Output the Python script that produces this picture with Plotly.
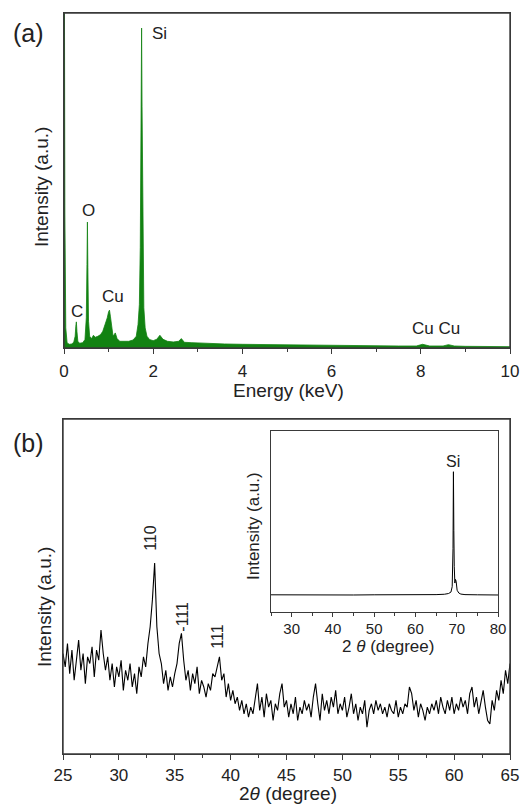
import numpy as np
import plotly.graph_objects as go

# ---------------- (a) EDS spectrum ----------------
energy_kev = [0.0, 0.01, 0.02, 0.04, 0.07, 0.12, 0.18, 0.22, 0.25, 0.265,
              0.277, 0.29, 0.31, 0.35, 0.42, 0.47, 0.50, 0.515, 0.525, 0.535,
              0.55, 0.575, 0.62, 0.66, 0.70, 0.76, 0.82, 0.87, 0.91, 0.94,
              0.97, 1.0, 1.02, 1.04, 1.07, 1.10, 1.15, 1.19, 1.25, 1.35,
              1.45, 1.55, 1.62, 1.66, 1.69, 1.71, 1.73, 1.74, 1.75, 1.77,
              1.79, 1.82, 1.86, 1.92, 2.0, 2.08, 2.15, 2.22, 2.32, 2.45,
              2.57, 2.63, 2.7, 2.85, 3.0, 3.3, 3.6, 4.0, 4.5, 5.0,
              5.5, 6.0, 6.5, 7.0, 7.5, 7.9, 8.04, 8.2, 8.5, 8.62,
              8.75, 9.0, 9.5, 10.0]
eds_counts = [0.0, 1.05, 0.40, 0.06, 0.015, 0.011, 0.012, 0.018, 0.035, 0.065,
              0.078, 0.05, 0.02, 0.014, 0.016, 0.025, 0.09, 0.25, 0.376, 0.24,
              0.08, 0.035, 0.028, 0.038, 0.032, 0.035, 0.04, 0.05, 0.065, 0.075,
              0.09, 0.108, 0.113, 0.095, 0.055, 0.035, 0.045, 0.028, 0.02, 0.019,
              0.02, 0.024, 0.035, 0.07, 0.13, 0.30, 0.75, 0.955, 0.72, 0.30,
              0.12, 0.06, 0.035, 0.025, 0.022, 0.026, 0.038, 0.026, 0.02, 0.018,
              0.02, 0.028, 0.017, 0.016, 0.015, 0.013, 0.012, 0.011, 0.010, 0.009,
              0.008, 0.008, 0.007, 0.007, 0.006, 0.006, 0.011, 0.006, 0.006, 0.010,
              0.006, 0.005, 0.005, 0.004]
eds_labels = ["Si", "O", "C", "Cu", "Cu Cu"]
eds_label_x = [2.15, 0.54, 0.29, 1.10, 8.34]
eds_label_y = [0.94, 0.41, 0.11, 0.155, 0.057]

# ---------------- (b) XRD pattern (25-65 deg, 0.2 deg step) ----------------
two_theta = np.round(np.arange(25.0, 65.0001, 0.2), 2)
xrd_intensity = [
    0.30, 0.26, 0.33, 0.24, 0.31, 0.22, 0.28, 0.34, 0.25, 0.30,
    0.21, 0.29, 0.27, 0.32, 0.23, 0.31, 0.28, 0.37, 0.30, 0.25,
    0.29, 0.22, 0.27, 0.20, 0.26, 0.23, 0.28, 0.19, 0.25, 0.22,
    0.27, 0.20, 0.24, 0.18, 0.26, 0.23, 0.29, 0.26, 0.33, 0.38,
    0.46, 0.57, 0.38, 0.30, 0.27, 0.21, 0.25, 0.19, 0.23, 0.20,
    0.24, 0.27, 0.33, 0.36, 0.28, 0.22, 0.25, 0.19, 0.24, 0.21,
    0.26, 0.18, 0.22, 0.20, 0.17, 0.21, 0.19, 0.24, 0.23, 0.26,
    0.29, 0.22, 0.24, 0.17, 0.21, 0.16, 0.19, 0.15, 0.17, 0.13,
    0.16, 0.12, 0.15, 0.11, 0.14, 0.12, 0.16, 0.21, 0.13, 0.17,
    0.11, 0.18, 0.14, 0.16, 0.10, 0.15, 0.13, 0.18, 0.21, 0.14,
    0.16, 0.11, 0.15, 0.12, 0.17, 0.10, 0.14, 0.12, 0.16, 0.13,
    0.15, 0.11, 0.17, 0.21, 0.15, 0.10, 0.18, 0.13, 0.16, 0.12,
    0.17, 0.14, 0.19, 0.12, 0.15, 0.13, 0.17, 0.11, 0.14, 0.18,
    0.12, 0.15, 0.10, 0.14, 0.12, 0.16, 0.08, 0.13, 0.15, 0.12,
    0.16, 0.13, 0.15, 0.12, 0.14, 0.11, 0.15, 0.13, 0.12, 0.16,
    0.11, 0.14, 0.12, 0.15, 0.14, 0.20, 0.18, 0.13, 0.16, 0.11,
    0.15, 0.13, 0.10, 0.14, 0.12, 0.15, 0.13, 0.16, 0.12, 0.17,
    0.14, 0.12, 0.16, 0.13, 0.17, 0.12, 0.15, 0.13, 0.17, 0.14,
    0.16, 0.12, 0.18, 0.20, 0.14, 0.17, 0.12, 0.16, 0.19, 0.14,
    0.10, 0.09, 0.16, 0.13, 0.19, 0.16, 0.22, 0.18, 0.25, 0.21,
    0.27]
xrd_labels = ["110", "-111", "111"]
xrd_label_x = [32.87, 35.74, 38.87]
xrd_label_y = [0.645, 0.41, 0.35]

# ---------------- inset: substrate XRD (25-80 deg) ----------------
inset_theta = [25, 30, 35, 40, 45, 50, 55, 60, 65, 67, 68, 68.6, 68.9, 69.1,
               69.2, 69.3, 69.4, 69.55, 69.7, 69.85, 70.1, 70.5, 71, 72, 75, 80]
inset_intensity = [0.095, 0.094, 0.095, 0.094, 0.094, 0.095, 0.094, 0.095,
                   0.096, 0.098, 0.102, 0.11, 0.14, 0.35, 0.775, 0.45, 0.25,
                   0.16, 0.18, 0.17, 0.12, 0.105, 0.099, 0.096, 0.095, 0.094]

W, H = 520, 808
FONT = "Arial, Liberation Sans, sans-serif"
INK = "#222222"
FRAME = "#3a3a3a"
GREEN = "rgb(18,130,18)"

fig = go.Figure()
fig.add_trace(go.Scatter(x=energy_kev, y=eds_counts, mode="lines",
                         line=dict(color=GREEN, width=0.8), fill="tozeroy",
                         fillcolor=GREEN, xaxis="x", yaxis="y",
                         showlegend=False, hoverinfo="skip"))
fig.add_trace(go.Scatter(x=two_theta, y=xrd_intensity, mode="lines",
                         line=dict(color="black", width=1.1), xaxis="x2", yaxis="y2",
                         showlegend=False, hoverinfo="skip"))
fig.add_trace(go.Scatter(x=inset_theta, y=inset_intensity, mode="lines",
                         line=dict(color="black", width=1), xaxis="x3", yaxis="y3",
                         showlegend=False, hoverinfo="skip"))


def px(x):
    return x / W


def py(y):
    return 1 - y / H


axis_common = dict(showline=True, linecolor=FRAME, linewidth=1.4, mirror=True,
                   showgrid=False, zeroline=False, automargin=False)

fig.update_layout(
    width=W, height=H, margin=dict(l=0, r=0, t=0, b=0, autoexpand=False),
    paper_bgcolor="white", plot_bgcolor="white",
    font=dict(family=FONT, color=INK),
    xaxis=dict(domain=[px(64), px(510)], range=[0, 10], anchor="y",
               ticks="outside", ticklen=5, tickcolor=FRAME, dtick=2, tick0=0,
               tickfont=dict(size=17), ticklabelstandoff=2,
               minor=dict(ticks="outside", ticklen=3, tickcolor=FRAME, dtick=1, tick0=0),
               **axis_common),
    yaxis=dict(domain=[py(348), py(13)], range=[0, 1], anchor="x",
               showticklabels=False, ticks="", **axis_common),
    xaxis2=dict(domain=[px(63), px(510)], range=[25, 65], anchor="y2",
                ticks="outside", ticklen=5, tickcolor=FRAME, dtick=5, tick0=25,
                tickfont=dict(size=17), ticklabelstandoff=0,
                minor=dict(ticks="outside", ticklen=3, tickcolor=FRAME, dtick=2.5, tick0=25),
                **axis_common),
    yaxis2=dict(domain=[py(754), py(419)], range=[0, 1], anchor="x2",
                showticklabels=False, ticks="", **axis_common),
    xaxis3=dict(domain=[px(271), px(498)], range=[25, 80], anchor="y3",
                ticks="outside", ticklen=4, tickcolor=FRAME, dtick=10, tick0=0,
                tickfont=dict(size=15), ticklabelstandoff=-1,
                minor=dict(ticks="outside", ticklen=2.5, tickcolor=FRAME, dtick=5, tick0=0),
                **axis_common),
    yaxis3=dict(domain=[py(612), py(431)], range=[0, 1], anchor="x3",
                showticklabels=False, ticks="", **axis_common),
)

# explicit frames around the two main panels
shapes = []
for xr, yr in [("x domain", "y domain"), ("x2 domain", "y2 domain")]:
    shapes.append(dict(type="rect", xref=xr, yref=yr, x0=0, x1=1, y0=0, y1=1,
                       line=dict(color=FRAME, width=1.4), fillcolor="rgba(0,0,0,0)",
                       layer="above"))
fig.update_layout(shapes=shapes)

ann = []
# panel letters
ann.append(dict(text="(a)", x=px(28), y=py(33), xref="paper", yref="paper",
                showarrow=False, font=dict(size=25), xanchor="center", yanchor="middle"))
ann.append(dict(text="(b)", x=px(28), y=py(443), xref="paper", yref="paper",
                showarrow=False, font=dict(size=25), xanchor="center", yanchor="middle"))
# axis titles
ann.append(dict(text="Energy (keV)", x=px(288), y=py(390), xref="paper", yref="paper",
                showarrow=False, font=dict(size=19), xanchor="center", yanchor="middle"))
ann.append(dict(text="Intensity (a.u.)", x=px(41), y=py(187), xref="paper", yref="paper",
                showarrow=False, font=dict(size=19), textangle=-90,
                xanchor="center", yanchor="middle"))
ann.append(dict(text="2<i>θ</i> (degree)", x=px(288), y=py(793), xref="paper", yref="paper",
                showarrow=False, font=dict(size=19), xanchor="center", yanchor="middle"))
ann.append(dict(text="Intensity (a.u.)", x=px(44), y=py(607), xref="paper", yref="paper",
                showarrow=False, font=dict(size=19), textangle=-90,
                xanchor="center", yanchor="middle"))
ann.append(dict(text="2 <i>θ</i> (degree)", x=px(388), y=py(646), xref="paper", yref="paper",
                showarrow=False, font=dict(size=17), xanchor="center", yanchor="middle"))
ann.append(dict(text="Intensity (a.u.)", x=px(253), y=py(526), xref="paper", yref="paper",
                showarrow=False, font=dict(size=17), textangle=-90,
                xanchor="center", yanchor="middle"))
# peak labels
for t, x, y in zip(eds_labels, eds_label_x, eds_label_y):
    ann.append(dict(text=t, x=x, y=y, xref="x", yref="y", showarrow=False,
                    font=dict(size=17), xanchor="center", yanchor="middle"))
for t, x, y in zip(xrd_labels, xrd_label_x, xrd_label_y):
    ann.append(dict(text=t, x=x, y=y, xref="x2", yref="y2", showarrow=False,
                    font=dict(size=16), textangle=-90, xanchor="center", yanchor="middle"))
ann.append(dict(text="Si", x=69.2, y=0.83, xref="x3", yref="y3", showarrow=False,
                font=dict(size=16), xanchor="center", yanchor="middle"))

fig.update_layout(annotations=ann)
fig.write_html("out.html")
